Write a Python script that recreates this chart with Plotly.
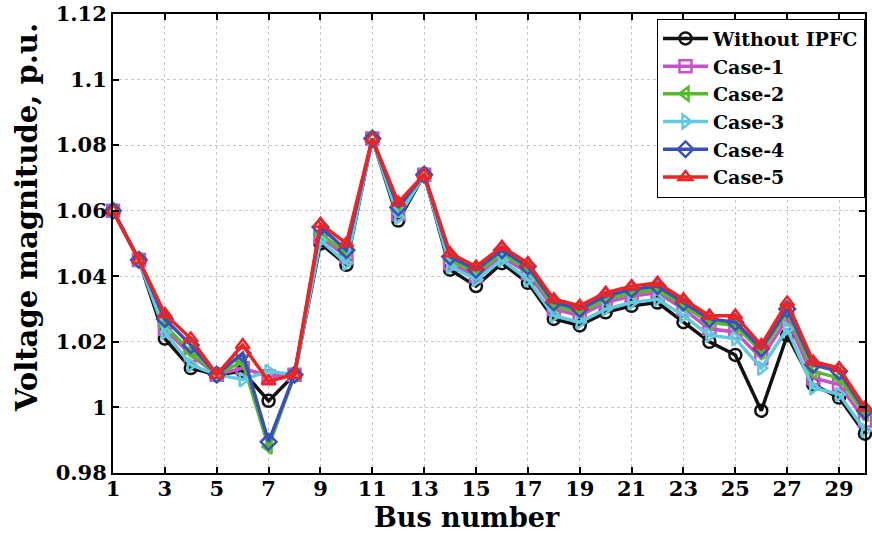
import plotly.graph_objects as go

bus = list(range(1, 31))

without_ipfc = [1.060, 1.045, 1.021, 1.012, 1.010, 1.011, 1.002, 1.010, 1.050, 1.0435,
                1.082, 1.057, 1.071, 1.042, 1.037, 1.044, 1.038, 1.027, 1.025, 1.029,
                1.031, 1.032, 1.026, 1.020, 1.016, 0.999, 1.022, 1.007, 1.003, 0.992]
case1 = [1.060, 1.045, 1.024, 1.016, 1.010, 1.012, 1.0095, 1.010, 1.052, 1.046,
         1.082, 1.059, 1.071, 1.044, 1.040, 1.046, 1.041, 1.030, 1.028, 1.032,
         1.034, 1.035, 1.030, 1.024, 1.023, 1.015, 1.027, 1.009, 1.007, 0.996]
case2 = [1.060, 1.045, 1.025, 1.017, 1.010, 1.014, 0.988, 1.010, 1.053, 1.047,
         1.082, 1.060, 1.071, 1.045, 1.041, 1.047, 1.042, 1.031, 1.029, 1.033,
         1.035, 1.036, 1.031, 1.026, 1.025, 1.017, 1.029, 1.011, 1.009, 0.998]
case3 = [1.060, 1.045, 1.023, 1.013, 1.010, 1.0085, 1.011, 1.010, 1.051, 1.044,
         1.082, 1.058, 1.071, 1.043, 1.039, 1.045, 1.039, 1.028, 1.026, 1.030,
         1.032, 1.033, 1.028, 1.022, 1.021, 1.012, 1.024, 1.006, 1.004, 0.993]
case4 = [1.060, 1.045, 1.027, 1.019, 1.010, 1.0165, 0.9895, 1.010, 1.055, 1.048,
         1.082, 1.061, 1.071, 1.046, 1.042, 1.048, 1.043, 1.032, 1.030, 1.034,
         1.036, 1.037, 1.032, 1.027, 1.026, 1.018, 1.030, 1.013, 1.011, 0.999]
case5 = [1.060, 1.045, 1.0285, 1.021, 1.010, 1.019, 1.008, 1.010, 1.056, 1.050,
         1.082, 1.0625, 1.071, 1.047, 1.043, 1.049, 1.044, 1.033, 1.031, 1.035,
         1.037, 1.038, 1.033, 1.028, 1.028, 1.019, 1.032, 1.014, 1.012, 1.000]

series_names = ["Without IPFC", "Case-1", "Case-2", "Case-3", "Case-4", "Case-5"]
series_values = [without_ipfc, case1, case2, case3, case4, case5]
series_colors = ["#111111", "#c850c8", "#55bb2a", "#62cadd", "#3a50b8", "#ee2424"]
series_symbols = ["circle-open", "square-open", "triangle-left-open",
                  "triangle-right-open", "diamond-open", "triangle-up-open"]

x_tickvals = list(range(1, 30, 2))
x_ticktext = [str(v) for v in x_tickvals]
y_tickvals = [0.98, 1.0, 1.02, 1.04, 1.06, 1.08, 1.10, 1.12]
y_ticktext = ["0.98", "1", "1.02", "1.04", "1.06", "1.08", "1.1", "1.12"]
x_title = "Bus number"
y_title = "Voltage magnitude, p.u."

FONT = "DejaVu Serif"

fig = go.Figure()
for name, vals, col, sym in zip(series_names, series_values, series_colors, series_symbols):
    fig.add_trace(go.Scatter(
        x=bus, y=vals, name=name, mode="lines+markers", cliponaxis=False,
        line=dict(color=col, width=3.5),
        marker=dict(symbol=sym, size=12, color=col, line=dict(color=col, width=2.5)),
    ))

axis_common = dict(
    showline=True, linecolor="black", linewidth=2, mirror="ticks",
    ticks="inside", ticklen=6, tickwidth=1.5, tickcolor="black",
    showgrid=True, gridcolor="#c8c8c8", gridwidth=1, griddash="dot",
    zeroline=False, automargin=False, ticklabeloverflow="allow",
    tickfont=dict(family=FONT, size=21, color="black", weight="bold"),
)

fig.update_xaxes(range=[1, 30], tickvals=x_tickvals, ticktext=x_ticktext,
                 ticklabelstandoff=-4, **axis_common)
fig.update_yaxes(range=[0.98, 1.12], tickvals=y_tickvals, ticktext=y_ticktext,
                 **axis_common)

fig.add_annotation(text=x_title, xref="paper", yref="paper", x=0.4707, y=-0.098,
                   xanchor="center", yanchor="middle", showarrow=False,
                   font=dict(family=FONT, size=27, color="black", weight="bold"))
fig.add_annotation(text=y_title, xref="paper", yref="paper", x=-0.1144, y=0.5577,
                   xanchor="center", yanchor="middle", showarrow=False, textangle=-90,
                   font=dict(family=FONT, size=29, color="black", weight="bold"))

fig.update_layout(
    width=872, height=536,
    margin=dict(l=113, r=7, t=14, b=63),
    paper_bgcolor="white", plot_bgcolor="white",
    legend=dict(
        x=1, y=0.99, xanchor="right", yanchor="top",
        bgcolor="white", bordercolor="black", borderwidth=1,
        font=dict(family=FONT, size=19, color="black", weight="bold"),
        tracegroupgap=0, itemwidth=45,
    ),
    showlegend=True,
)

fig.write_html("out.html", config={"displayModeBar": False},
               post_script="document.body.style.margin='0';")
